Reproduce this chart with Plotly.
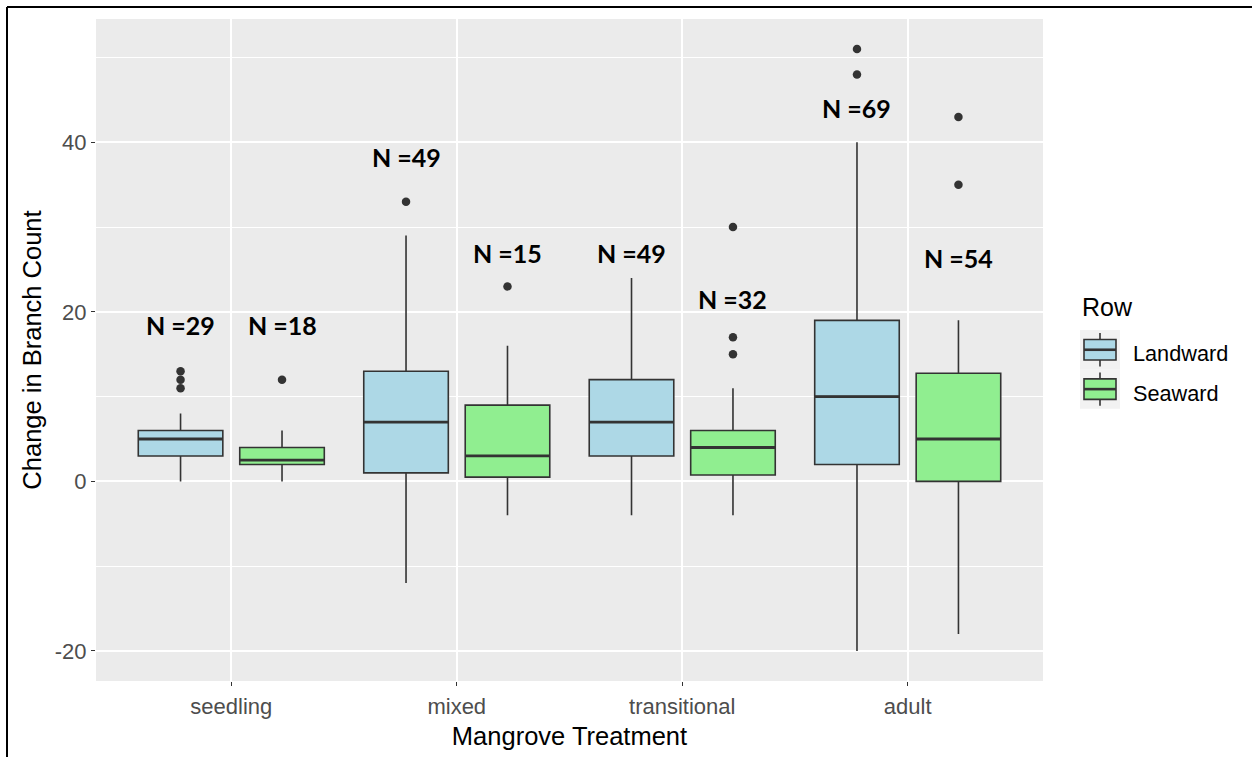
import plotly.graph_objects as go

# ---------------- data ----------------
categories = ["seedling", "mixed", "transitional", "adult"]
groups = ["Landward", "Seaward"]

landward_lower = [0, -12, -4, -20]
landward_q1 = [3, 1, 3, 2]
landward_median = [5, 7, 7, 10]
landward_q3 = [6, 13, 12, 19]
landward_upper = [8, 29, 24, 40]
landward_outliers = [[11, 12, 13], [33], [], [48, 51]]
landward_n = [29, 49, 49, 69]
landward_label_y = [18.5, 38.3, 27.0, 44.0]

seaward_lower = [0, -4, -4, -18]
seaward_q1 = [2, 0.5, 0.75, 0]
seaward_median = [2.5, 3, 4, 5]
seaward_q3 = [4, 9, 6, 12.75]
seaward_upper = [6, 16, 11, 19]
seaward_outliers = [[12], [23], [15, 17, 30], [35, 43]]
seaward_n = [18, 15, 32, 54]
seaward_label_y = [18.5, 27.0, 21.5, 26.3]

y_ticks = [-20, 0, 20, 40]
y_tick_labels = ["-20", "0", "20", "40"]
y_minor = [-10, 10, 30, 50]

legend_title = "Row"

# ---------------- styling / geometry ----------------
fills = {"Landward": "#ADD8E6", "Seaward": "#90EE90"}
edge = "#333333"
dodge = 0.9
box_w = 0.75 / 2
offsets = {"Landward": -dodge / 4, "Seaward": dodge / 4}
lw = 1.6

W, H = 1252, 757
ML, MR, MT, MB = 96, 209, 19, 74
PW, PH = W - ML - MR, H - MT - MB


def px(x):
    return (x - ML) / PW


def py(y):
    return (H - MB - y) / PH


series = {
    "Landward": dict(lo=landward_lower, q1=landward_q1, med=landward_median, q3=landward_q3,
                     hi=landward_upper, out=landward_outliers, n=landward_n, ly=landward_label_y),
    "Seaward": dict(lo=seaward_lower, q1=seaward_q1, med=seaward_median, q3=seaward_q3,
                    hi=seaward_upper, out=seaward_outliers, n=seaward_n, ly=seaward_label_y),
}

fig = go.Figure()
annotations = []
for g in groups:
    s = series[g]
    pos = [i + offsets[g] for i in range(len(categories))]
    fig.add_trace(go.Box(
        name=g, x=pos, q1=s["q1"], median=s["med"], q3=s["q3"],
        lowerfence=s["lo"], upperfence=s["hi"], width=box_w,
        fillcolor=fills[g], line=dict(color=edge, width=lw),
        whiskerwidth=0, boxpoints=False, showlegend=False, hoverinfo="skip",
    ))
    # thicker median line (ggplot fatten)
    mx, my = [], []
    for p, m in zip(pos, s["med"]):
        mx += [p - box_w / 2, p + box_w / 2, None]
        my += [m, m, None]
    fig.add_trace(go.Scatter(x=mx, y=my, mode="lines", line=dict(color=edge, width=2.8),
                             showlegend=False, hoverinfo="skip"))
    # outliers
    ox, oy = [], []
    for p, outs in zip(pos, s["out"]):
        for v in outs:
            ox.append(p)
            oy.append(v)
    fig.add_trace(go.Scatter(x=ox, y=oy, mode="markers",
                             marker=dict(color=edge, size=8.5, line=dict(width=0)),
                             showlegend=False, hoverinfo="skip"))
    for p, n, ly in zip(pos, s["n"], s["ly"]):
        annotations.append(dict(x=p, y=ly, xref="x", yref="y", text=f"<b>N ={n}</b>",
                                showarrow=False,
                                font=dict(family="Lato", size=25, color="black")))

# ---------------- ggplot-style legend (keys drawn as shapes) ----------------
shapes = [
    dict(type="line", xref="paper", yref="paper",
         x0=px(7), x1=px(7), y0=py(7), y1=py(H + 5),
         line=dict(color="black", width=2)),
    dict(type="line", xref="paper", yref="paper",
         x0=px(7), x1=px(W + 5), y0=py(7), y1=py(7),
         line=dict(color="black", width=2)),
]
annotations.append(dict(x=px(1080), y=py(308), xref="paper", yref="paper", xanchor="left",
                        yanchor="middle", text=legend_title, showarrow=False,
                        font=dict(size=25, color="black")))
key_left, key_right, key_h, key_top0 = 1080, 1120, 39.5, 331
for k, g in enumerate(groups):
    top = key_top0 + k * key_h
    cx = (key_left + key_right) / 2
    cy = top + key_h / 2
    shapes.append(dict(type="rect", xref="paper", yref="paper", layer="below",
                       x0=px(key_left), x1=px(key_right), y0=py(top), y1=py(top + key_h),
                       fillcolor="#F2F2F2", line=dict(width=0)))
    shapes.append(dict(type="line", xref="paper", yref="paper",
                       x0=px(cx), x1=px(cx), y0=py(top + 3), y1=py(top + key_h - 3),
                       line=dict(color=edge, width=lw)))
    shapes.append(dict(type="rect", xref="paper", yref="paper",
                       x0=px(key_left + 4), x1=px(key_right - 4), y0=py(cy - 10.3), y1=py(cy + 10.3),
                       fillcolor=fills[g], line=dict(color=edge, width=lw)))
    shapes.append(dict(type="line", xref="paper", yref="paper",
                       x0=px(key_left + 4), x1=px(key_right - 4), y0=py(cy), y1=py(cy),
                       line=dict(color=edge, width=2.6)))
    annotations.append(dict(x=px(1131), y=py(cy + 4), xref="paper", yref="paper", xanchor="left",
                            yanchor="middle", text=g, showarrow=False,
                            font=dict(size=21.7, color="black")))

grid = "white"
fig.update_layout(
    width=W, height=H,
    margin=dict(l=ML, r=MR, t=MT, b=MB),
    paper_bgcolor="white", plot_bgcolor="#EBEBEB",
    boxmode="overlay", showlegend=False,
    font=dict(family="Liberation Sans", color="#4D4D4D"),
    annotations=annotations,
    shapes=shapes,
    xaxis=dict(
        range=[-0.6, len(categories) - 0.4],
        tickvals=list(range(len(categories))), ticktext=categories,
        showgrid=True, gridcolor=grid, gridwidth=2, zeroline=False,
        ticks="outside", ticklen=4, tickcolor=edge, tickwidth=1.2,
        tickfont=dict(size=22, color="#4D4D4D"), ticklabelstandoff=2,
        title=dict(text="Mangrove Treatment", font=dict(size=25.5, color="black"), standoff=8),
        showline=False,
    ),
    yaxis=dict(
        range=[-23.55, 54.55],
        tickvals=y_ticks, ticktext=y_tick_labels,
        showgrid=True, gridcolor=grid, gridwidth=2, zeroline=False,
        ticks="outside", ticklen=4, tickcolor=edge, tickwidth=1.2,
        tickfont=dict(size=22, color="#4D4D4D"),
        title=dict(text="Change in Branch Count", font=dict(size=25.5, color="black"), standoff=5),
        minor=dict(tickvals=y_minor, showgrid=True, gridcolor=grid, gridwidth=1, ticks=""),
        showline=False,
    ),
)

fig.write_html("out.html", config={"displayModeBar": False},
               post_script="document.body.style.margin='0';document.body.style.overflow='hidden';")
